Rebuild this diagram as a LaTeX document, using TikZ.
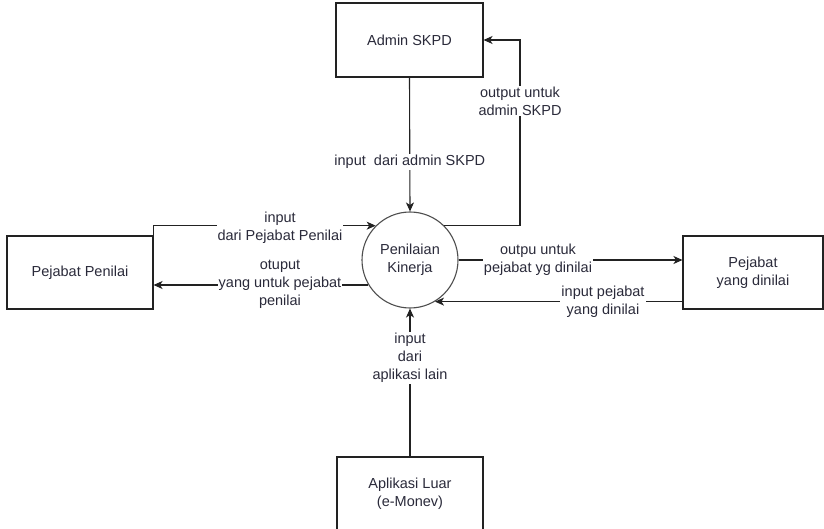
\documentclass[tikz,border=0pt]{standalone}
\usepackage{fontspec}
\setmainfont{Liberation Sans}
\usetikzlibrary{arrows.meta,calc}
\definecolor{ink}{HTML}{222222}
\definecolor{txt}{HTML}{2A2A3A}
\begin{document}
\begin{tikzpicture}[x=1pt,y=-1pt,
  every node/.style={font=\fontsize{14.5}{18}\selectfont, text=txt},
  entity/.style={draw=ink, line width=1.1pt, fill=white, rectangle, align=center, inner sep=0pt},
  process/.style={draw=ink!80, line width=1.1pt, fill=white, circle, minimum size=96pt, inner sep=0pt, align=center},
  flow/.style={draw=ink, line width=1.1pt, -{Stealth[length=9pt,width=8pt,inset=2.5pt]}},
  lbl/.style={fill=white, align=center, inner sep=1pt}]
\useasboundingbox (0,0) rectangle (824,529);

% external entities
\node[entity, minimum width=147pt, minimum height=74pt] (admin) at (409.5,40) {Admin SKPD};
\node[entity, minimum width=146pt, minimum height=73pt] (pl) at (80,272.5) {Pejabat Penilai};
\node[entity, minimum width=140pt, minimum height=73pt] (pj) at (753,272.5) {Pejabat\\yang dinilai};
\node[entity, minimum width=146pt, minimum height=74pt] (app) at (410,494) {Aplikasi Luar\\(e-Monev)};

% the process
\node[process] (c) at (410,260) {Penilaian\\Kinerja};

% data flows
\coordinate (turn) at (520,40);
\draw[flow] (admin.south) -- (c.north)
  node[lbl, pos=0.63] {input\ \ dari admin SKPD};
\draw[flow] (c.45) -| (turn) -- (admin.east);
\node[lbl] (lo) at (520,101) {output untuk\\admin SKPD};

\draw[flow] (pl.north east) |- (c.135);
\node[lbl] (li) at (280,228) {input\\dari Pejabat Penilai};

\draw[flow] (c.-149) -- (c.-149 -| pl.east);
\node[lbl] (lp) at (280,284) {otuput\\yang untuk pejabat\\penilai};

\draw[flow] (c.east) -- (c.east -| pj.west);
\node[lbl] (lr) at (538,260) {outpu untuk\\pejabat yg dinilai};

\draw[flow] (pj.west |- c.-59) -- (c.-59);
\node[lbl] (lq) at (603,302) {input pejabat\\yang dinilai};

\draw[flow] (app.north) -- (c.south);
\node[lbl] (la) at (410,358) {input\\dari\\aplikasi lain};
\end{tikzpicture}
\end{document}
